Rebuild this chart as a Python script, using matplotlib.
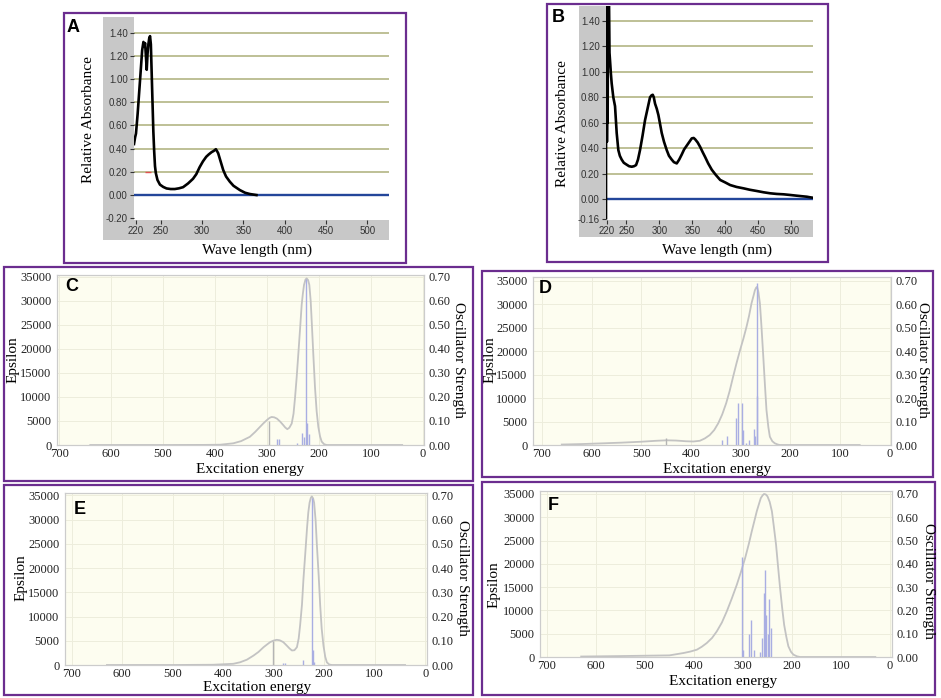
import matplotlib
matplotlib.use('Agg')
import matplotlib.pyplot as plt
import numpy as np
from matplotlib.patches import Rectangle

W, H = 941, 698
PURPLE = '#6b2d8f'
SERIF = 'Liberation Serif'
SANS = 'Liberation Sans'

# ---- A : measured UV spectrum (nm, relative absorbance)
a_nm = [217.6, 219.0, 220.0, 222.0, 224.0, 226.0, 227.5, 229.0, 230.0, 231.0, 232.0,
        233.0, 234.0, 235.0, 236.0, 237.0, 238.0, 239.0, 240.0, 241.0, 242.0, 243.0,
        244.0, 246.0, 249.0, 253.0, 257.0, 262.0, 267.0, 272.0, 277.0, 283.0, 289.0,
        293.0, 297.0, 301.0, 305.0, 308.0, 311.5, 314.0, 316.7, 318.0, 319.5, 322.0,
        325.6, 329.0, 333.6, 338.0, 345.7, 352.0, 357.8, 365.8]
a_abs = [0.44, 0.50, 0.53, 0.70, 0.90, 1.10, 1.25, 1.32, 1.28, 1.31, 1.20,
         1.08, 1.22, 1.30, 1.35, 1.37, 1.30, 1.05, 0.80, 0.55, 0.38, 0.25,
         0.19, 0.13, 0.09, 0.07, 0.057, 0.052, 0.052, 0.058, 0.068, 0.10, 0.14,
         0.18, 0.24, 0.29, 0.33, 0.35, 0.37, 0.38, 0.395, 0.38, 0.36, 0.30,
         0.215, 0.16, 0.115, 0.08, 0.043, 0.02, 0.009, 0.0]
a_mark_nm = [235.0]
a_mark_abs = [0.195]

# ---- B : measured UV spectrum
b_nm = [219.0, 219.2, 220.0, 220.4, 221.0, 221.5, 222.0, 223.5, 224.3, 225.1, 226.5,
        227.6, 230.1, 232.7, 235.2, 237.7, 240.0, 242.8, 246.0, 250.4, 254.0, 258.0,
        261.5, 264.6, 267.5, 270.6, 274.5, 278.2, 282.0, 285.8, 288.0, 289.9, 291.5,
        293.4, 296.0, 298.5, 301.0, 303.5, 307.0, 311.1, 314.5, 318.7, 322.0, 326.3,
        330.0, 333.9, 337.5, 341.5, 345.5, 349.1, 352.0, 354.2, 358.0, 361.8, 365.5,
        369.4, 374.0, 379.5, 385.5, 392.2, 400.0, 407.3, 417.0, 427.6, 437.0, 447.8,
        458.0, 468.1, 478.0, 488.4, 498.0, 508.6, 516.0, 523.8, 528.0, 532.9]
b_abs = [-0.15, 1.60, 1.60, 0.45, 0.95, 0.60, 1.60, 1.60, 1.15, 1.09, 0.98,
         0.91, 0.80, 0.73, 0.52, 0.385, 0.34, 0.31, 0.285, 0.27, 0.258, 0.254,
         0.258, 0.267, 0.31, 0.385, 0.50, 0.62, 0.71, 0.80, 0.815, 0.82, 0.80,
         0.75, 0.71, 0.66, 0.59, 0.52, 0.45, 0.385, 0.34, 0.31, 0.29, 0.28,
         0.31, 0.35, 0.39, 0.42, 0.45, 0.477, 0.48, 0.47, 0.445, 0.41, 0.37,
         0.33, 0.28, 0.23, 0.19, 0.15, 0.13, 0.11, 0.095, 0.084, 0.073, 0.063,
         0.053, 0.045, 0.040, 0.037, 0.032, 0.026, 0.022, 0.018, 0.014, 0.010]

abs_xticks = [220, 250, 300, 350, 400, 450, 500]
a_yticks = [-0.20, 0.00, 0.20, 0.40, 0.60, 0.80, 1.00, 1.20, 1.40]
b_yticks = [-0.16, 0.00, 0.20, 0.40, 0.60, 0.80, 1.00, 1.20, 1.40]

# ---- C..F : computed spectra (nm, epsilon) and oscillator strengths
c_nm = [640, 600, 500, 420, 390, 365, 350, 333, 323, 313.5, 307, 300.6, 295, 291, 286,
        281, 275, 268.6, 265, 261, 257, 252.5, 249, 246, 243, 239.8, 236.5, 233.3, 231,
        228.8, 226, 223.7, 221, 218.6, 216, 214, 211, 207.7, 204.5, 201.3, 198, 194.8,
        190, 185, 100, 40]
c_eps = [0, 0, 0, 20, 60, 350, 800, 1700, 2700, 3770, 4500, 5150, 5650, 5830, 5750,
         5490, 4900, 4120, 3650, 3290, 3600, 4460, 6500, 9950, 14000, 18880, 24000, 29170, 31500,
         33290, 34400, 34650, 34300, 33290, 30000, 25740, 19000, 12000, 7000, 3770, 1800, 700,
         150, 0, 0, 0]
c_st_nm = [281, 276, 243, 233, 229, 225, 222.5, 218.6]
c_st_f = [0.025, 0.025, 0.008, 0.05, 0.035, 0.69, 0.09, 0.045]
c_gr_nm = [296]
c_gr_f = [0.10]

d_nm = [660, 620, 580, 540, 500, 470, 449, 430, 410, 395, 382, 372, 362, 353, 345, 337,
        329, 322, 315, 308, 301, 294, 288, 283, 278, 274, 271, 268.5, 266.6, 264, 261,
        258, 254.6, 251, 247.8, 244, 241, 236, 231, 225, 221, 150, 60]
d_eps = [100, 200, 350, 500, 700, 900, 1000, 950, 800, 750, 900, 1400, 2130, 3200, 4620, 6500,
         8900, 11500, 14560, 17500, 20250, 22800, 25220, 27500, 30200, 31800, 33050, 33600, 33750, 32600, 30200,
         25500, 19550, 13000, 7460, 3800, 1770, 800, 360, 100, 0, 0, 0]
d_st_nm = [338, 327, 310, 305, 297, 295, 289, 283, 273, 270.7, 266.6, 266]
d_st_f = [0.02, 0.04, 0.115, 0.18, 0.18, 0.064, 0.01, 0.02, 0.07, 0.04, 0.69, 0.21]
d_gr_nm = [450]
d_gr_f = [0.03]

e_nm = [630, 500, 420, 380, 366.5, 353, 340, 330, 320, 313, 307, 300, 294, 288, 281, 275,
        269, 264, 259, 254, 250.5, 247.7, 244, 241, 237.5, 234, 231.5, 229, 226.5, 224.5,
        222, 220, 217, 214.6, 211, 208, 205, 201.5, 198, 194.8, 190, 185, 40]
e_eps = [0, 0, 50, 250, 560, 1100, 1940, 2700, 3680, 4250, 4720, 5050, 5200, 5100, 4720, 4100,
         3450, 3000, 3050, 3680, 5500, 8200, 12500, 17900, 23000, 28300, 31500, 33500, 34500, 34800,
         34400, 33500, 29800, 24900, 18500, 12350, 7500, 4000, 1700, 560, 100, 0, 0]
e_st_nm = [282, 278, 241.5, 224.5, 222, 221]
e_st_f = [0.01, 0.01, 0.02, 0.69, 0.06, 0.012]
e_gr_nm = [300.5]
e_gr_f = [0.10]

f_nm = [630, 550, 450, 421.5, 408, 394, 384, 373.8, 363, 353.4, 343, 333, 323, 312.6, 304,
        295.7, 288, 282, 276.5, 271.8, 267.5, 263.7, 260, 257, 253.5, 250, 245.5, 241, 237,
        232.5, 228.5, 224.3, 220, 216, 211.5, 207.4, 202, 197, 190, 183.5, 30]
f_eps = [100, 200, 350, 850, 1150, 1570, 2200, 3000, 4100, 5500, 7400, 9800, 12500, 15500, 18300,
         21200, 24300, 27000, 29300, 31300, 32800, 34100, 34700, 35000, 34900, 34500, 33300, 31300, 28000,
         24100, 19500, 14800, 10500, 6900, 4300, 2300, 1100, 500, 150, 0, 0]
f_st_nm = [302.4, 299, 287, 284, 276.7, 265, 261, 258, 255, 253, 249, 246, 243]
f_st_f = [0.43, 0.03, 0.10, 0.157, 0.03, 0.02, 0.08, 0.275, 0.375, 0.18, 0.10, 0.25, 0.125]
f_gr_nm = []
f_gr_f = []

td_xticks = [0, 100, 200, 300, 400, 500, 600, 700]
eps_ticks = [0, 5000, 10000, 15000, 20000, 25000, 30000, 35000]
osc_ticks = [0.0, 0.1, 0.2, 0.3, 0.4, 0.5, 0.6, 0.7]


def px_rect(x0, y0, x1, y1):
    # pixel box (top-left origin) -> figure fraction rect
    return [x0 / W, 1 - y1 / H, (x1 - x0) / W, (y1 - y0) / H]


def fxy(x, y):
    return x / W, 1 - y / H


def draw_box(fig, x0, y0, x1, y1):
    fig.add_artist(Rectangle((x0 / W, 1 - y1 / H), (x1 - x0) / W, (y1 - y0) / H,
                             transform=fig.transFigure, fill=False,
                             edgecolor=PURPLE, linewidth=1.6))


def letter(fig, s, x, y):
    fig.text(*fxy(x, y), s, fontsize=13, fontweight='bold', family=SANS,
             ha='center', va='center')


def abs_panel(fig, gray, plot, nm, ab, xlim, ylim, yticks):
    bg = fig.add_axes(px_rect(*gray))
    bg.set_facecolor('#c8c8c8')
    bg.set_xticks([])
    bg.set_yticks([])
    for s in bg.spines.values():
        s.set_visible(False)

    ax = fig.add_axes(px_rect(*plot))
    ax.set_facecolor('white')
    for y in yticks:
        if y > 0:
            ax.axhline(y, color='#b9bb8d', lw=1.3, zorder=1)
    ax.axhline(0, color='#23469a', lw=1.7, zorder=2)
    ax.plot(nm, ab, color='black', lw=1.9, zorder=3)
    ax.set_xlim(xlim)
    ax.set_ylim(ylim)
    ax.set_xticks(abs_xticks)
    ax.set_yticks(yticks)
    ax.set_yticklabels(['%.2f' % v for v in yticks])
    ax.tick_params(labelsize=7, colors='#333333', length=3, width=0.8, pad=1.5)
    for lab in ax.get_xticklabels() + ax.get_yticklabels():
        lab.set_family(SANS)
    for s in ax.spines.values():
        s.set_visible(False)
    return ax


def td_panel(fig, rect, xlim, ymax, nm, eps, st_nm, st_f, gr_nm, gr_f):
    ax = fig.add_axes(px_rect(*rect))
    ax.set_facecolor('#fdfdf0')
    ax.set_xlim(xlim)
    ax.set_ylim(0, ymax)
    ax.set_xticks(td_xticks)
    ax.set_yticks(eps_ticks)
    ax.grid(True, color='#ededdc', lw=0.7)
    ax.set_axisbelow(True)
    ax.plot(nm, eps, color='#c3c3c3', lw=1.3, zorder=3)
    ax.tick_params(length=0, labelsize=9, pad=4, colors='#222222')
    ax.tick_params(axis='x', pad=2)
    for s in ax.spines.values():
        s.set_color('#cccccc')

    ax2 = ax.twinx()
    ax2.set_ylim(0, ymax / 50000.0)
    ax2.set_yticks(osc_ticks)
    ax2.set_yticklabels(['%.2f' % v for v in osc_ticks])
    ax2.vlines(st_nm, 0, st_f, color='#a9aee2', lw=1.0)
    ax2.vlines(gr_nm, 0, gr_f, color='#b4b4b4', lw=1.0)
    ax2.tick_params(length=0, labelsize=9, pad=3, colors='#222222')
    for s in ax2.spines.values():
        s.set_color('#cccccc')
    return ax


def td_labels(fig, eps_xy, osc_xy, exc_xy):
    fig.text(*fxy(*eps_xy), 'Epsilon', rotation=90, fontsize=11, ha='center', va='center')
    fig.text(*fxy(*osc_xy), 'Oscillator Strength', rotation=270, fontsize=11,
             ha='center', va='center')
    fig.text(*fxy(*exc_xy), 'Excitation energy', fontsize=11, ha='center', va='center')


def main():
    plt.rcParams['font.family'] = SERIF
    fig = plt.figure(figsize=(W / 100, H / 100), dpi=100)

    # boxes
    draw_box(fig, 64, 13, 406, 263)
    draw_box(fig, 547, 4, 828, 262)
    draw_box(fig, 4, 267, 473, 481)
    draw_box(fig, 482, 271, 933, 477)
    draw_box(fig, 4, 485, 473, 695)
    draw_box(fig, 482, 482, 935, 695)

    # A
    ax = abs_panel(fig, (103, 17, 389, 240), (134, 17, 389, 220), a_nm, a_abs,
                   (217.6, 526.2), (-0.215, 1.535), a_yticks)
    ax.plot(a_mark_nm, a_mark_abs, marker='_', color='#e05050', ms=5, lw=0)
    fig.text(*fxy(88, 120), 'Relative Absorbance', rotation=90, fontsize=11,
             ha='center', va='center')
    fig.text(*fxy(257, 250), 'Wave length (nm)', fontsize=11, ha='center', va='center')
    letter(fig, 'A', 73, 27)

    # B
    abs_panel(fig, (579, 6, 813, 237), (606, 6, 813, 220), b_nm, b_abs,
              (219.0, 533.0), (-0.165, 1.518), b_yticks)
    fig.text(*fxy(563, 124), 'Relative Absorbance', rotation=90, fontsize=11,
             ha='center', va='center')
    fig.text(*fxy(717, 250), 'Wave length (nm)', fontsize=11, ha='center', va='center')
    letter(fig, 'B', 558, 17)

    # C
    td_panel(fig, (57, 275, 424, 445), (704, -2), 35350, c_nm, c_eps,
             c_st_nm, c_st_f, c_gr_nm, c_gr_f)
    td_labels(fig, (13, 360), (459, 360), (250, 470))
    letter(fig, 'C', 72, 287)

    # D
    td_panel(fig, (533, 277, 891, 445), (718, -3), 35850, d_nm, d_eps,
             d_st_nm, d_st_f, d_gr_nm, d_gr_f)
    td_labels(fig, (490, 360), (922, 360), (717, 470))
    letter(fig, 'D', 545, 289)

    # E
    td_panel(fig, (65, 493, 427, 665), (713, -3.4), 35500, e_nm, e_eps,
             e_st_nm, e_st_f, e_gr_nm, e_gr_f)
    td_labels(fig, (21, 578), (462, 578), (257, 688))
    letter(fig, 'E', 80, 510)

    # F
    td_panel(fig, (540, 491, 892, 657), (714, -4), 35640, f_nm, f_eps,
             f_st_nm, f_st_f, f_gr_nm, f_gr_f)
    td_labels(fig, (494, 585), (928, 581), (723, 682))
    letter(fig, 'F', 553, 506)

    fig.savefig('out.png', dpi=100, facecolor='white')


if __name__ == "__main__":
    main()
